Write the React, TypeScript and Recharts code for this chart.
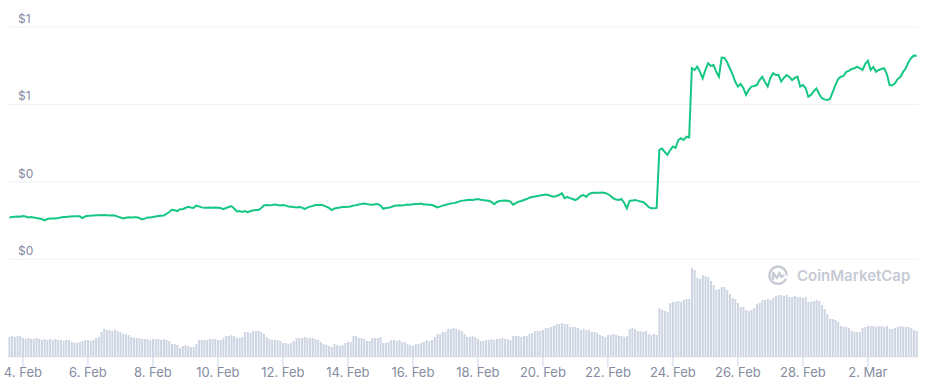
import React from "react";
import { ComposedChart, Line, Bar, XAxis, YAxis, CartesianGrid } from "recharts";

// 2-hour samples, first one at 3 Feb 14:00 (hour -10 relative to 4 Feb 00:00)
const START_HOUR = -10;
const STEP_HOURS = 2;

const price = [
  0.215, 0.218, 0.22, 0.221, 0.22, 0.223, 0.221, 0.216, 0.218, 0.216, 0.213, 0.211,
  0.208, 0.201, 0.208, 0.21, 0.211, 0.211, 0.213, 0.216, 0.218, 0.218, 0.221, 0.221,
  0.222, 0.222, 0.222, 0.213, 0.221, 0.225, 0.225, 0.226, 0.227, 0.228, 0.228, 0.229,
  0.228, 0.226, 0.227, 0.226, 0.22, 0.216, 0.211, 0.214, 0.217, 0.216, 0.217, 0.217,
  0.213, 0.206, 0.21, 0.216, 0.216, 0.218, 0.221, 0.223, 0.225, 0.226, 0.234, 0.244,
  0.256, 0.253, 0.249, 0.259, 0.259, 0.265, 0.271, 0.267, 0.265, 0.277, 0.273, 0.268,
  0.266, 0.266, 0.267, 0.266, 0.267, 0.266, 0.265, 0.259, 0.265, 0.27, 0.275, 0.262,
  0.247, 0.249, 0.244, 0.249, 0.242, 0.249, 0.252, 0.254, 0.254, 0.265, 0.278, 0.28,
  0.279, 0.28, 0.283, 0.28, 0.278, 0.28, 0.278, 0.272, 0.271, 0.27, 0.267, 0.27,
  0.268, 0.259, 0.267, 0.272, 0.275, 0.28, 0.28, 0.282, 0.278, 0.272, 0.265, 0.254,
  0.262, 0.265, 0.267, 0.27, 0.27, 0.271, 0.273, 0.278, 0.279, 0.283, 0.285, 0.288,
  0.286, 0.283, 0.282, 0.284, 0.285, 0.278, 0.261, 0.265, 0.266, 0.27, 0.275, 0.278,
  0.279, 0.278, 0.28, 0.283, 0.282, 0.284, 0.285, 0.285, 0.288, 0.283, 0.283, 0.282,
  0.28, 0.275, 0.268, 0.272, 0.277, 0.28, 0.285, 0.288, 0.29, 0.293, 0.298, 0.303,
  0.304, 0.306, 0.308, 0.306, 0.309, 0.311, 0.308, 0.306, 0.303, 0.302, 0.296, 0.284,
  0.296, 0.301, 0.302, 0.303, 0.302, 0.298, 0.282, 0.29, 0.298, 0.301, 0.306, 0.311,
  0.318, 0.322, 0.324, 0.327, 0.329, 0.332, 0.335, 0.332, 0.327, 0.323, 0.327, 0.332,
  0.341, 0.315, 0.322, 0.316, 0.311, 0.306, 0.314, 0.327, 0.332, 0.322, 0.337, 0.342,
  0.344, 0.344, 0.344, 0.345, 0.342, 0.337, 0.327, 0.315, 0.309, 0.306, 0.311, 0.292,
  0.263, 0.301, 0.303, 0.306, 0.303, 0.298, 0.296, 0.285, 0.27, 0.263, 0.263, 0.265,
  0.565, 0.572, 0.554, 0.539, 0.564, 0.582, 0.575, 0.616, 0.625, 0.616, 0.633, 0.629,
  0.988, 0.978, 0.995, 0.968, 0.935, 0.978, 1.013, 0.999, 1.004, 0.968, 0.943, 1.042,
  1.04, 1.019, 0.987, 0.957, 0.918, 0.892, 0.906, 0.885, 0.849, 0.875, 0.892, 0.895,
  0.9, 0.926, 0.943, 0.916, 0.892, 0.937, 0.961, 0.952, 0.952, 0.918, 0.937, 0.952,
  0.942, 0.926, 0.937, 0.943, 0.892, 0.9, 0.885, 0.84, 0.849, 0.869, 0.883, 0.854,
  0.832, 0.826, 0.823, 0.828, 0.864, 0.9, 0.931, 0.943, 0.947, 0.968, 0.973, 0.983,
  0.987, 0.994, 0.988, 0.978, 1.009, 1.025, 0.978, 0.994, 0.969, 0.978, 0.983, 0.987,
  0.957, 0.9, 0.898, 0.909, 0.931, 0.943, 0.968, 0.987, 1.019, 1.04, 1.053, 1.05,
];

// volume, in $100k
const volume = [
  20, 21, 20, 21, 21, 19, 18, 19, 18, 18, 19, 18,
  17, 18, 17, 18, 17, 18, 17, 17, 16, 17, 17, 15,
  14, 14, 15, 16, 17, 17, 16, 17, 19, 20, 25, 28,
  27, 27, 26, 27, 26, 25, 23, 23, 22, 20, 19, 19,
  19, 18, 18, 18, 17, 18, 18, 18, 17, 18, 17, 16,
  13, 13, 12, 9, 11, 12, 11, 10, 10, 13, 17, 17,
  17, 17, 18, 18, 18, 17, 17, 19, 21, 21, 22, 21,
  19, 19, 20, 25, 25, 24, 26, 26, 26, 25, 23, 20,
  18, 17, 17, 17, 16, 14, 14, 13, 14, 16, 19, 19,
  19, 20, 19, 19, 19, 18, 17, 15, 13, 12, 11, 10,
  13, 12, 11, 12, 14, 15, 15, 21, 21, 19, 19, 18,
  16, 16, 19, 19, 19, 20, 14, 14, 15, 17, 17, 16,
  17, 15, 15, 13, 12, 11, 13, 13, 14, 15, 17, 16,
  17, 20, 23, 23, 25, 25, 28, 28, 29, 28, 27, 26,
  23, 20, 20, 21, 20, 18, 16, 16, 17, 17, 18, 17,
  18, 18, 19, 18, 18, 17, 21, 21, 21, 20, 21, 21,
  23, 24, 26, 26, 26, 27, 29, 29, 30, 31, 33, 33,
  34, 33, 33, 30, 30, 30, 29, 27, 28, 27, 27, 25,
  25, 24, 22, 21, 20, 22, 22, 23, 22, 21, 21, 20,
  21, 28, 29, 28, 26, 26, 25, 26, 23, 22, 23, 22,
  49, 47, 46, 45, 54, 55, 55, 56, 55, 57, 58, 58,
  89, 87, 79, 78, 82, 81, 80, 76, 72, 67, 68, 70,
  70, 67, 63, 59, 58, 54, 50, 50, 47, 46, 47, 49,
  53, 54, 57, 57, 58, 57, 59, 61, 62, 62, 61, 62,
  60, 60, 61, 60, 60, 59, 60, 55, 55, 56, 57, 56,
  52, 48, 43, 38, 38, 37, 35, 31, 30, 30, 29, 26,
  25, 25, 25, 29, 30, 31, 31, 31, 30, 31, 31, 30,
  31, 28, 28, 29, 30, 31, 30, 30, 30, 29, 27, 26,
];

const tickHours = [0, 48, 96, 144, 192, 240, 288, 336, 384, 432, 480, 528, 576, 624];
const tickLabels = [
  "4. Feb", "6. Feb", "8. Feb", "10. Feb", "12. Feb", "14. Feb", "16. Feb",
  "18. Feb", "20. Feb", "22. Feb", "24. Feb", "26. Feb", "28. Feb", "2. Mar",
];

const priceTicks = [0, 0.4, 0.8, 1.2];
const priceTickLabels = ["$0", "$0", "$1", "$1"];

const data = price.map((p, i) => ({
  t: START_HOUR + i * STEP_HOURS,
  price: p,
  volume: volume[i],
}));

const FONT = "Inter, 'Noto Sans', sans-serif";

const renderPriceTick = (props: any) => {
  const { y, payload, index } = props;
  const label = priceTickLabels[priceTicks.indexOf(payload.value)];
  return (
    <text key={index} x={18} y={y - 4} fill="#858ca2" fontSize={12} fontFamily={FONT}>
      {label}
    </text>
  );
};

function Watermark() {
  return (
    <div
      style={{
        position: "absolute",
        left: 767,
        top: 264,
        display: "flex",
        alignItems: "center",
        gap: 8,
        color: "#c6cad4",
        fontFamily: FONT,
        fontSize: 15,
        fontWeight: 600,
        pointerEvents: "none",
      }}
    >
      <svg width={22} height={22} viewBox="0 0 22 22">
        <path
          d="M18.5 15.5 A8.6 8.6 0 1 1 19.6 10.5"
          fill="none"
          stroke="#c6cad4"
          strokeWidth={2.4}
          strokeLinecap="round"
        />
        <path
          d="M6 15 L6 8.5 L10 14 L12.5 8.5 L14 13 L16.5 11.5"
          fill="none"
          stroke="#c6cad4"
          strokeWidth={2.2}
          strokeLinejoin="round"
          strokeLinecap="round"
        />
      </svg>
      <span>CoinMarketCap</span>
    </div>
  );
}

export default function App() {
  return (
    <div style={{ position: "absolute", left: 0, top: 0, width: 931, height: 388, background: "#fff" }}>
      <ComposedChart
        width={931}
        height={388}
        data={data}
        margin={{ top: 27, right: 13, bottom: 0, left: 0 }}
        barCategoryGap="17%"
      >
        <CartesianGrid yAxisId="p" vertical={false} stroke="#eff2f5" />
        <XAxis
          dataKey="t"
          type="category"
          ticks={tickHours}
          interval={0}
          tickFormatter={(v: number) => tickLabels[tickHours.indexOf(v)]}
          axisLine={false}
          tickLine={{ stroke: "#ccd6eb" }}
          tickSize={10}
          tickMargin={1}
          height={31}
          tick={{ fill: "#858ca2", fontSize: 13, fontFamily: FONT }}
        />
        <YAxis
          yAxisId="p"
          type="number"
          domain={[-0.505, 1.2]}
          ticks={priceTicks}
          interval={0}
          width={8}
          axisLine={false}
          tickLine={false}
          tick={renderPriceTick}
        />
        <YAxis yAxisId="v" type="number" domain={[0, 330]} hide />
        <Bar yAxisId="v" dataKey="volume" fill="#cdd4e2" isAnimationActive={false} />
        <Line
          yAxisId="p"
          dataKey="price"
          type="linear"
          stroke="#16c784"
          strokeWidth={2}
          dot={false}
          activeDot={false}
          isAnimationActive={false}
        />
      </ComposedChart>
      <Watermark />
    </div>
  );
}
